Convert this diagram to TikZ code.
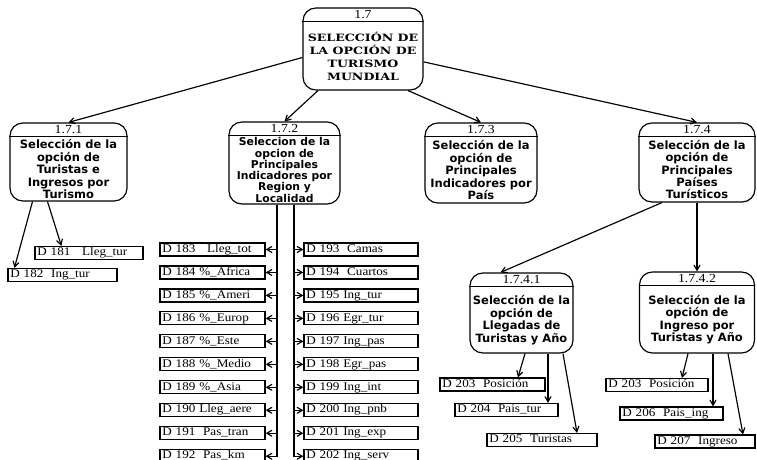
\documentclass[tikz,border=0pt]{standalone}
\usepackage{fontspec}
\setmainfont{Liberation Serif}[FakeStretch=1.12]
\newfontfamily\procfont{DejaVu Sans}
\newfontfamily\topfont{DejaVu Serif}[FakeStretch=1.25]
\usepackage{tikz}
\usetikzlibrary{shapes,arrows,positioning,calc}

\tikzset{
  proceso/.style={draw, rectangle, rounded corners=11pt, inner sep=0pt},
  numero/.style={anchor=north, inner sep=0pt, minimum height=0.39cm, font=\fontsize{10.5}{11}\selectfont},
  texto/.style={align=center, inner sep=0pt, font=\procfont\bfseries\fontsize{9.8}{10.6}\selectfont},
  dato/.style={draw, rectangle, text width=#1, align=left, inner xsep=2pt, inner ysep=0.5pt,
    minimum height=0.39cm, text height=6.8pt, text depth=2.2pt, font=\fontsize{10}{10}\selectfont},
  flecha/.style={->, >=angle 60},
}

% caja de proceso: [opciones texto]{nombre}{posicion}{ancho}{alto}{numero}{texto}
\newcommand{\proceso}[7][]{%
  \node[proceso, minimum width=#4, minimum height=#5] (#2) at (#3) {};
  \node[numero] (#2-n) at (#2.north) {#6};
  \draw (#2.west |- #2-n.south) -- (#2.east |- #2-n.south);
  \node[texto, #1] (#2-t) at ($(#2-n.south)!0.5!(#2.south)$) {#7};
}

\begin{document}
\begin{tikzpicture}[x=0.03cm, y=0.03cm, line width=1pt]
  \useasboundingbox (0,0) rectangle (757,460);

  % procesos
  \proceso[font=\topfont\bfseries\fontsize{8.6}{11}\selectfont]{n17}{363,411}{3.6cm}{2.46cm}{1.7}%
    {SELECCIÓN DE\\LA OPCIÓN DE\\TURISMO\\MUNDIAL}
  \proceso{n171}{68.5,298}{3.51cm}{2.34cm}{1.7.1}%
    {Selección de la\\opción de\\Turistas e\\Ingresos por\\Turismo}
  \proceso[font=\procfont\bfseries\fontsize{9.2}{9.6}\selectfont]{n172}{284.5,297}{3.33cm}{2.46cm}{1.7.2}%
    {Seleccion de la\\opcion de\\Principales\\Indicadores por\\Region y\\Localidad}
  \proceso{n173}{481,297}{3.36cm}{2.4cm}{1.7.3}%
    {Selección de la\\opción de\\Principales\\Indicadores por\\País}
  \proceso{n174}{697,297.5}{3.48cm}{2.37cm}{1.7.4}%
    {Selección de la\\opción de\\Principales\\Países\\Turísticos}
  \proceso{n1741}{521.5,147}{3.09cm}{2.4cm}{1.7.4.1}%
    {Selección de la\\opción de\\Llegadas de\\Turistas y Año}
  \proceso{n1742}{697,147.5}{3.45cm}{2.43cm}{1.7.4.2}%
    {Selección de la\\opción de\\Ingreso por\\Turistas y Año}

  % datos de 1.7.1
  \node[dato=3.10cm] (d181) at (89,207) {D 181~~ Lleg\_tur};
  \node[dato=3.13cm] (d182) at (62.5,185) {D 182~ Ing\_tur};

  % datos de 1.7.2, columna izquierda
  \node[dato=3.01cm] (d183) at (212.5,210.5) {D 183~~ Lleg\_tot};
  \node[dato=3.01cm, below=0.264cm of d183] (d184) {D 184 \%\_Africa};
  \node[dato=3.01cm, below=0.264cm of d184] (d185) {D 185 \%\_Ameri};
  \node[dato=3.01cm, below=0.264cm of d185] (d186) {D 186 \%\_Europ};
  \node[dato=3.01cm, below=0.264cm of d186] (d187) {D 187 \%\_Este};
  \node[dato=3.01cm, below=0.264cm of d187] (d188) {D 188 \%\_Medio};
  \node[dato=3.01cm, below=0.264cm of d188] (d189) {D 189 \%\_Asia};
  \node[dato=3.01cm, below=0.264cm of d189] (d190) {D 190 Lleg\_aere};
  \node[dato=3.01cm, below=0.264cm of d190] (d191) {D 191~ Pas\_tran};
  \node[dato=3.01cm, below=0.264cm of d191] (d192) {D 192~ Pas\_km};

  % datos de 1.7.2, columna derecha
  \node[dato=3.28cm] (d193) at (361,210.5) {D 193~ Camas};
  \node[dato=3.28cm, below=0.264cm of d193] (d194) {D 194~ Cuartos};
  \node[dato=3.28cm, below=0.264cm of d194] (d195) {D 195 Ing\_tur};
  \node[dato=3.28cm, below=0.264cm of d195] (d196) {D 196 Egr\_tur};
  \node[dato=3.28cm, below=0.264cm of d196] (d197) {D 197 Ing\_pas};
  \node[dato=3.28cm, below=0.264cm of d197] (d198) {D 198 Egr\_pas};
  \node[dato=3.28cm, below=0.264cm of d198] (d199) {D 199 Ing\_int};
  \node[dato=3.28cm, below=0.264cm of d199] (d200) {D 200 Ing\_pnb};
  \node[dato=3.28cm, below=0.264cm of d200] (d201) {D 201 Ing\_exp};
  \node[dato=3.28cm, below=0.264cm of d201] (d202) {D 202 Ing\_serv};

  % datos de 1.7.4.1 y 1.7.4.2
  \node[dato=3.01cm] (d203) at (492.5,75.5) {D 203~ Posición};
  \node[dato=2.95cm] (d204) at (506.5,50) {D 204~ Pais\_tur};
  \node[dato=3.16cm] (d205) at (542,20) {D 205~ Turistas};
  \node[dato=2.92cm] (d203b) at (657,75) {D 203~ Posición};
  \node[dato=2.95cm] (d206) at (671.5,46.5) {D 206~ Pais\_ing};
  \node[dato=2.86cm] (d207) at (705,18.5) {D 207~ Ingreso};

  % flujos desde 1.7
  \draw[flecha] (n17.188) -- (n171.north);
  \draw[flecha] ($(n17.south)+(-45,0)$) -- (n172.north);
  \draw[flecha] ($(n17.south)+(45,0)$) -- (n173.north);
  \draw[flecha] (n17.348) -- (n174.north);

  % flujos de 1.7.1
  \draw[flecha] ($(n171.south)+(-36,0)$) -- ($(d182.north west)+(7,0)$);
  \draw[flecha] ($(n171.south)+(-21,0)$) -- ($(d181.north west)+(27,0)$);

  % flujos de 1.7.2: dos troncos y una flecha por dato
  \coordinate (n172-izq) at ($(n172.south)+(-7.5,0)$);
  \coordinate (n172-der) at ($(n172.south)+(9.5,0)$);
  \draw[flecha] (n172-izq) |- (d192.east);
  \draw[flecha] (n172-der) |- (d202.west);
  \draw[flecha] (n172-izq |- d183.east) -- (d183.east);
  \draw[flecha] (n172-izq |- d184.east) -- (d184.east);
  \draw[flecha] (n172-izq |- d185.east) -- (d185.east);
  \draw[flecha] (n172-izq |- d186.east) -- (d186.east);
  \draw[flecha] (n172-izq |- d187.east) -- (d187.east);
  \draw[flecha] (n172-izq |- d188.east) -- (d188.east);
  \draw[flecha] (n172-izq |- d189.east) -- (d189.east);
  \draw[flecha] (n172-izq |- d190.east) -- (d190.east);
  \draw[flecha] (n172-izq |- d191.east) -- (d191.east);
  \draw[flecha] (n172-der |- d193.west) -- (d193.west);
  \draw[flecha] (n172-der |- d194.west) -- (d194.west);
  \draw[flecha] (n172-der |- d195.west) -- (d195.west);
  \draw[flecha] (n172-der |- d196.west) -- (d196.west);
  \draw[flecha] (n172-der |- d197.west) -- (d197.west);
  \draw[flecha] (n172-der |- d198.west) -- (d198.west);
  \draw[flecha] (n172-der |- d199.west) -- (d199.west);
  \draw[flecha] (n172-der |- d200.west) -- (d200.west);
  \draw[flecha] (n172-der |- d201.west) -- (d201.west);

  % flujos de 1.7.4
  \draw[flecha] ($(n174.south)+(-35,0)$) -- ($(n1741.north)+(-21,0)$);
  \draw[flecha] (n174.south) -- (n1742.north);
  \draw[flecha] ($(n1741.south)+(3.5,0)$) -- ($(d203.north)+(25.5,0)$);
  \draw[flecha] ($(n1741.south)+(26.5,0)$) -- ($(d204.north)+(41.5,0)$);
  \draw[flecha] ($(n1741.south)+(41.5,0)$) -- ($(d205.north)+(35,0)$);
  \draw[flecha] ($(n1742.south)+(-9,0)$) -- ($(d203b.north)+(25,0)$);
  \draw[flecha] ($(n1742.south)+(16,0)$) -- ($(d206.north)+(41.5,0)$);
  \draw[flecha] ($(n1742.south)+(31,0)$) -- ($(d207.north)+(38,0)$);
\end{tikzpicture}
\end{document}
